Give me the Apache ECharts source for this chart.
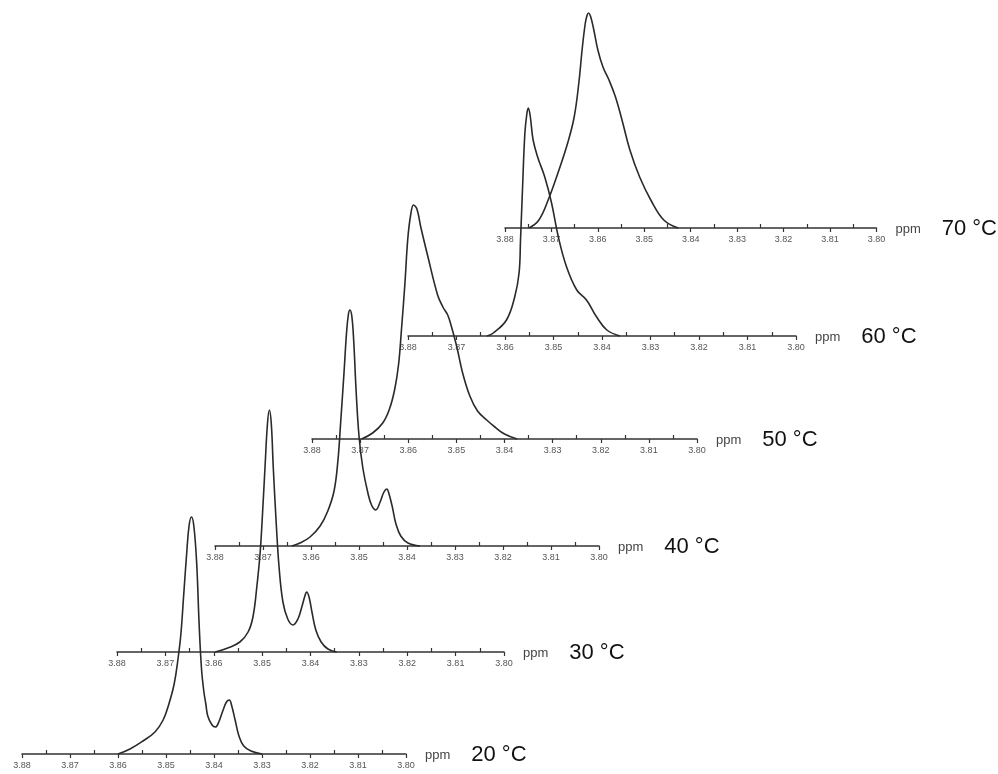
<!DOCTYPE html>
<html><head><meta charset="utf-8">
<script src="https://cdn.jsdelivr.net/npm/echarts@6/dist/echarts.min.js"></script>
<style>html,body{margin:0;padding:0;background:#fff}#c{width:998px;height:774px}</style>
</head><body><div id="c"></div><script>
// ---- data ----
const temperatures = ['20 °C', '30 °C', '40 °C', '50 °C', '60 °C', '70 °C'];
const axisUnit = 'ppm';
const ppmMin = 3.80, ppmMax = 3.88, ppmStep = 0.01;

// [chemical shift (ppm), intensity (a.u.)]
const spec20 = [[3.8600,0],[3.8575,5],[3.8548,13],[3.8523,22],[3.8506,34],[3.8494,50],[3.8483,70],[3.8475,95],[3.8469,120],[3.8463,160],[3.8457,200],[3.8452,228],[3.8447,237],[3.8442,228],[3.8436,190],[3.8431,130],[3.8426,85],[3.8421,62],[3.8417,50],[3.8413,38],[3.8404,29],[3.8397,27],[3.8390,32],[3.8381,44],[3.8374,52],[3.8368,54],[3.8363,48],[3.8356,34],[3.8348,18],[3.8338,8],[3.8323,3],[3.8300,0]];
const spec30 = [[3.8597,0],[3.8571,4],[3.8546,10],[3.8529,20],[3.8519,35],[3.8511,65],[3.8504,100],[3.8499,140],[3.8494,185],[3.8489,228],[3.8485,242],[3.8481,228],[3.8477,185],[3.8471,130],[3.8465,85],[3.8457,50],[3.8447,33],[3.8436,27],[3.8426,33],[3.8418,45],[3.8411,57],[3.8408,60],[3.8403,55],[3.8397,40],[3.8389,22],[3.8378,10],[3.8364,3],[3.8346,0]];
const spec40 = [[3.8640,0],[3.8623,3],[3.8602,9],[3.8581,20],[3.8565,35],[3.8552,55],[3.8544,85],[3.8538,125],[3.8531,175],[3.8526,213],[3.8522,232],[3.8519,236],[3.8515,230],[3.8511,205],[3.8506,155],[3.8500,110],[3.8492,78],[3.8481,52],[3.8473,40],[3.8465,36],[3.8456,44],[3.8448,54],[3.8442,57],[3.8438,53],[3.8431,40],[3.8423,22],[3.8413,10],[3.8398,3],[3.8373,0]];
const spec50 = [[3.8697,0],[3.8674,6],[3.8653,16],[3.8639,30],[3.8628,50],[3.8620,75],[3.8614,110],[3.8607,155],[3.8601,200],[3.8595,224],[3.8589,234],[3.8582,230],[3.8574,212],[3.8559,182],[3.8539,144],[3.8528,132],[3.8518,124],[3.8510,112],[3.8499,92],[3.8487,66],[3.8472,43],[3.8456,28],[3.8437,19],[3.8420,12],[3.8400,5],[3.8374,0]];
const spec60 = [[3.8637,0],[3.8624,3],[3.8597,16],[3.8580,39],[3.8571,63],[3.8568,96],[3.8564,146],[3.8559,203],[3.8555,222],[3.8552,228],[3.8548,220],[3.8542,196],[3.8532,178],[3.8518,159],[3.8504,133],[3.8490,99],[3.8473,69],[3.8452,46],[3.8432,36],[3.8411,19],[3.8390,6],[3.8363,0]];
const spec70 = [[3.8748,0],[3.8727,8],[3.8707,28],[3.8686,55],[3.8665,85],[3.8651,111],[3.8641,145],[3.8634,178],[3.8627,205],[3.8623,213],[3.8620,215],[3.8616,212],[3.8610,201],[3.8600,178],[3.8589,161],[3.8576,148],[3.8562,131],[3.8548,108],[3.8531,78],[3.8510,51],[3.8486,28],[3.8458,8],[3.8427,0]];
const spectra = [spec20, spec30, spec40, spec50, spec60, spec70];

// ---- layout (pixels) ----
const panels = [
  {left: 22,  width: 384, base: 754},
  {left: 117, width: 387, base: 652},
  {left: 215, width: 384, base: 546},
  {left: 312, width: 385, base: 439},
  {left: 408, width: 388, base: 336},
  {left: 505, width: 386, base: 228}
];
const H = 220;

const grid = [], xAxis = [], yAxis = [], series = [];
panels.forEach((p, i) => {
  grid.push({left: p.left, top: p.base - H, width: p.width, height: H, containLabel: false});
  xAxis.push({
    gridIndex: i, type: 'value', min: ppmMin, max: ppmMax, interval: ppmStep, inverse: true,
    axisLine: {show: true, onZero: false, lineStyle: {color: '#333', width: 1.5}},
    axisTick: {show: true, inside: false, length: 4, lineStyle: {color: '#333', width: 1.2}},
    minorTick: {show: true, splitNumber: 2, length: -4, lineStyle: {color: '#333', width: 1.2}},
    splitLine: {show: false},
    axisLabel: {show: true, margin: 7, fontSize: 9, color: '#555', fontFamily: 'Liberation Sans, Arial, sans-serif',
      showMinLabel: true, showMaxLabel: true, formatter: v => v.toFixed(2)},
    name: '{a|' + axisUnit + '}{b|' + temperatures[i] + '}',
    nameLocation: 'start', nameGap: 19,
    nameTextStyle: {align: 'left', verticalAlign: 'middle',
      rich: {
        a: {fontSize: 13, color: '#444', fontFamily: 'Liberation Sans, Arial, sans-serif', padding: [2, 0, 0, 0]},
        b: {fontSize: 22, color: '#111', fontFamily: 'Liberation Sans, Arial, sans-serif', padding: [2, 0, 0, 21]}
      }}
  });
  yAxis.push({gridIndex: i, type: 'value', min: 0, max: H, show: false});
  series.push({
    type: 'line', xAxisIndex: i, yAxisIndex: i, data: spectra[i], symbol: 'none',
    smooth: 0.4, clip: false, z: 3,
    lineStyle: {color: '#2a2a2a', width: 1.6}
  });
});

const chart = echarts.init(document.getElementById('c'), null, {renderer: 'canvas'});
chart.setOption({animation: false, backgroundColor: '#fff', grid, xAxis, yAxis, series});
</script></body></html>
